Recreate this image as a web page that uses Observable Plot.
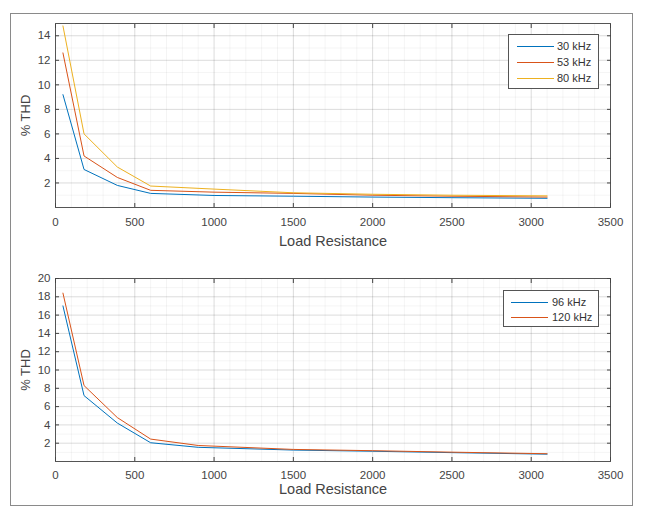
<!DOCTYPE html>
<html>
<head>
<meta charset="utf-8">
<script src="https://cdn.jsdelivr.net/npm/d3@7"></script>
<script src="https://cdn.jsdelivr.net/npm/@observablehq/plot@0.6"></script>
<style>
  html, body { margin: 0; padding: 0; background: #fff; }
  body { width: 650px; height: 519px; position: relative; overflow: hidden; font-family: "Liberation Sans", Arial, sans-serif; }
  #frame { position: absolute; left: 10px; top: 13px; width: 623px; height: 493px; border: 1px solid #8a8a8a; box-sizing: border-box; }
  .panel { position: absolute; left: 0; }
  .legend { position: absolute; background: #fff; border: 1px solid #555; box-sizing: border-box; font-size: 11px; color: #333; }
  .row { position: absolute; left: 0; right: 0; height: 12px; }
  .swatch { position: absolute; height: 0; border-top: 1px solid; top: 6px; }
  .lab { position: absolute; top: 0; line-height: 12px; }
</style>
</head>
<body>
<div id="frame"></div>
<div id="top" class="panel" style="top:0"></div>
<div id="bot" class="panel" style="top:255px"></div>
<script>
// ---- data ----
const resistance = [47, 180, 390, 600, 1000, 1500, 2000, 2500, 3100];
const thd30 = [9.2, 3.1, 1.8, 1.15, 0.98, 0.92, 0.85, 0.8, 0.75];
const thd53 = [12.6, 4.2, 2.45, 1.4, 1.25, 1.15, 1.0, 0.92, 0.85];
const thd80 = [14.8, 6.0, 3.3, 1.75, 1.5, 1.2, 1.08, 1.0, 0.95];
const topSeries = ["30 kHz", "53 kHz", "80 kHz"];

const resistanceB = [47, 180, 390, 600, 900, 1500, 2000, 2500, 3100];
const thd96 = [17.0, 7.2, 4.2, 2.05, 1.55, 1.25, 1.12, 0.97, 0.8];
const thd120 = [18.4, 8.3, 4.8, 2.45, 1.75, 1.32, 1.18, 1.02, 0.85];
const botSeries = ["96 kHz", "120 kHz"];

const xTicks = [0, 500, 1000, 1500, 2000, 2500, 3000, 3500];
const yTicksTop = [2, 4, 6, 8, 10, 12, 14];
const yTicksBot = [2, 4, 6, 8, 10, 12, 14, 16, 18, 20];

const colors = ["#0072BD", "#D95319", "#EDB120"];

function toRows(xs, seriesArr, names) {
  const rows = [];
  seriesArr.forEach((vals, i) => vals.forEach((v, j) => rows.push({x: xs[j], y: v, s: names[i]})));
  return rows;
}

function panel({rows, names, yDomain, yTicks, height, mTop, mBottom, labelOffset, tickPad}) {
  return Plot.plot({
    width: 650, height,
    marginLeft: 55, marginRight: 40, marginTop: mTop, marginBottom: mBottom,
    style: {fontFamily: "Liberation Sans, Arial, sans-serif", fontSize: "11.5px", color: "#444", background: "transparent"},
    x: {domain: [0, 3500]},
    y: {domain: yDomain},
    color: {domain: names, range: colors.slice(0, names.length)},
    marks: [
      Plot.gridX({interval: 100, stroke: "#000", strokeOpacity: 0.045}),
      Plot.gridY({interval: 1, stroke: "#000", strokeOpacity: 0.045}),
      Plot.gridX(xTicks, {stroke: "#000", strokeOpacity: 0.1}),
      Plot.gridY(yTicks, {stroke: "#000", strokeOpacity: 0.1}),
      Plot.line(rows, {x: "x", y: "y", z: "s", stroke: "s", strokeWidth: 1, clip: true}),
      Plot.frame({stroke: "#555", strokeWidth: 1}),
      Plot.axisX(xTicks, {anchor: "bottom", tickSize: -4, tickPadding: tickPad, tickFormat: d => String(d), label: "Load Resistance", labelAnchor: "center", labelArrow: "none", labelOffset}),
      Plot.axisX(xTicks, {anchor: "top", tickSize: -4, tickFormat: () => "", label: null}),
      Plot.axisY(yTicks, {anchor: "left", tickSize: -4, tickPadding: 9, tickFormat: d => String(d), label: "% THD", labelAnchor: "center", labelArrow: "none", labelOffset: 35}),
      Plot.axisY(yTicks, {anchor: "right", tickSize: -4, tickFormat: () => "", label: null})
    ]
  });
}

const topChart = panel({
  rows: toRows(resistance, [thd30, thd53, thd80], topSeries),
  names: topSeries, yDomain: [0, 15], yTicks: yTicksTop,
  height: 255, mTop: 23, mBottom: 48, labelOffset: 38, tickPad: 14
});
const botChart = panel({
  rows: toRows(resistanceB, [thd96, thd120], botSeries),
  names: botSeries, yDomain: [0, 20], yTicks: yTicksBot,
  height: 264, mTop: 23, mBottom: 58, labelOffset: 32, tickPad: 13
});
document.getElementById("top").appendChild(topChart);
document.getElementById("bot").appendChild(botChart);

// style the axis labels
for (const svg of [topChart, botChart]) {
  svg.querySelectorAll("[aria-label='x-axis label'] text").forEach(t => { t.style.fontSize = "14.5px"; });
  svg.querySelectorAll("[aria-label='y-axis label'] text").forEach(t => { t.style.fontSize = "13px"; });
}

function legend(names, box, rowYs, x1, x2, tx) {
  const d = document.createElement("div");
  d.className = "legend";
  Object.assign(d.style, {left: box[0] + "px", top: box[1] + "px", width: box[2] + "px", height: box[3] + "px"});
  names.forEach((n, i) => {
    const r = document.createElement("div");
    r.className = "row";
    r.style.top = (rowYs[i] - box[1] - 6) + "px";
    const sw = document.createElement("div");
    sw.className = "swatch";
    Object.assign(sw.style, {left: (x1 - box[0]) + "px", width: (x2 - x1) + "px", borderTopColor: colors[i]});
    const lb = document.createElement("div");
    lb.className = "lab";
    lb.style.left = (tx - box[0]) + "px";
    lb.textContent = n;
    r.appendChild(sw); r.appendChild(lb);
    d.appendChild(r);
  });
  document.body.appendChild(d);
}
legend(topSeries, [508, 34, 91, 55], [45, 61, 77], 516, 553, 556);
legend(botSeries, [503, 290, 96, 37], [300.5, 316], 510, 547, 551);
</script>
</body>
</html>
